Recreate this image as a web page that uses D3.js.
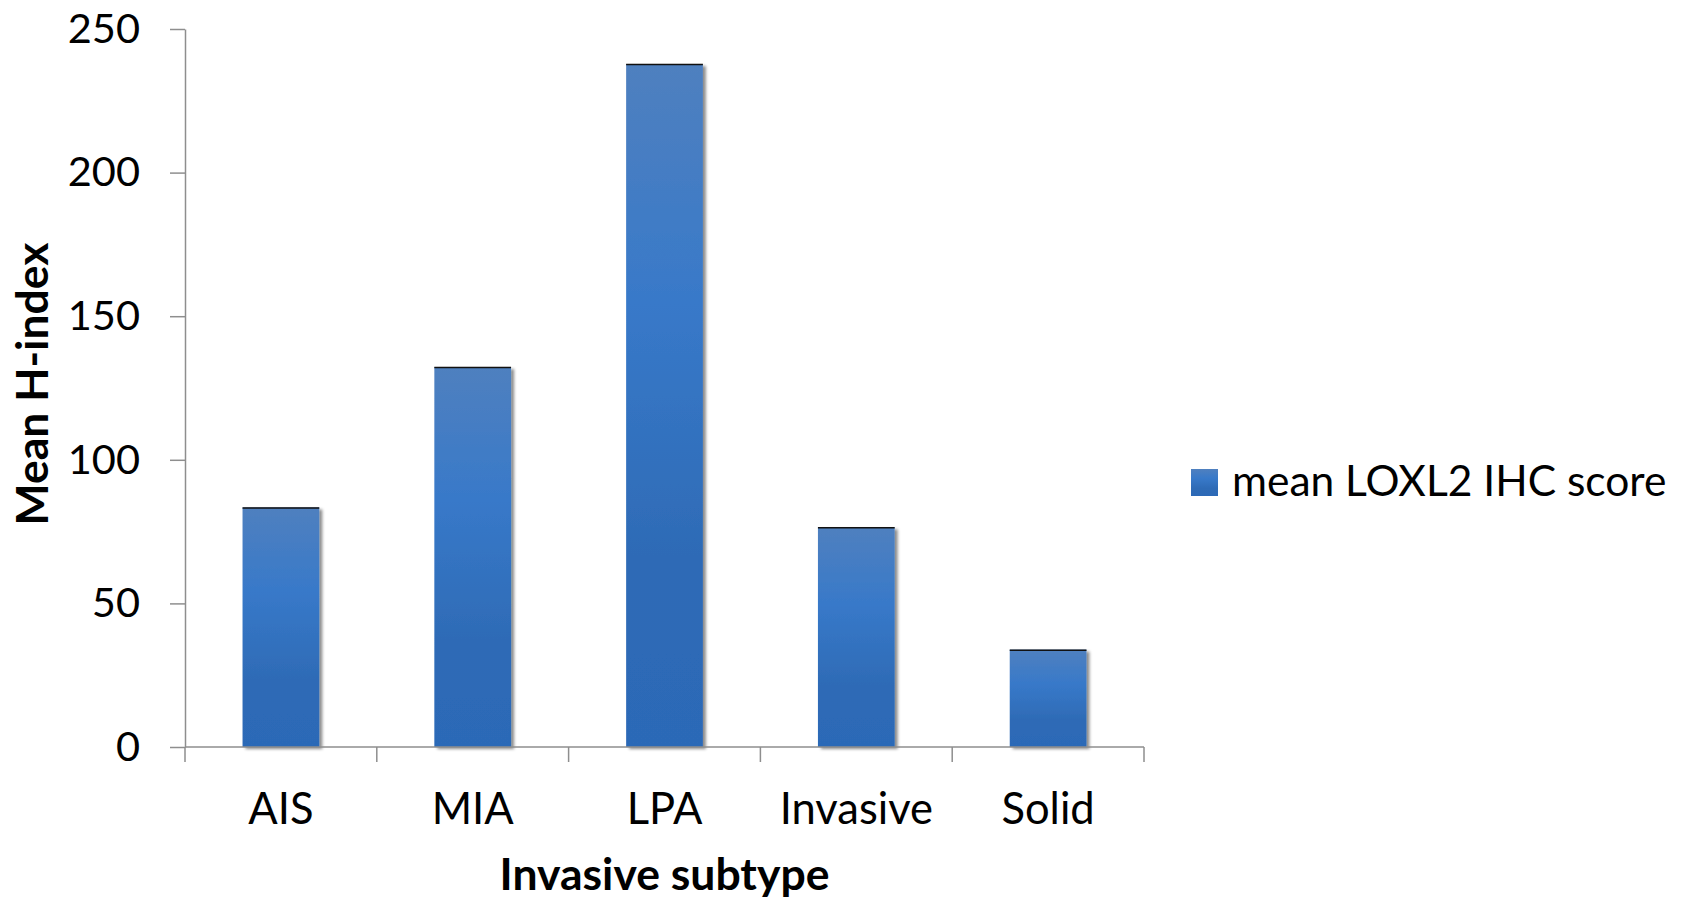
<!DOCTYPE html>
<html>
<head>
<meta charset="utf-8">
<script src="https://cdn.jsdelivr.net/npm/d3@7"></script>
<style>
  html, body { margin: 0; padding: 0; background: #fff; }
  svg { display: block; }
  text { font-family: Lato, "Open Sans", sans-serif; fill: #000; }
</style>
</head>
<body>
<svg id="chart" width="1682" height="899"></svg>
<script>
// Mean LOXL2 IHC score (H-index) per invasive subtype
const categories = ["AIS", "MIA", "LPA", "Invasive", "Solid"];
const meanScore = [83.4, 132.3, 237.8, 76.5, 33.9];
const yTicks = [0, 50, 100, 150, 200, 250];
const seriesName = "mean LOXL2 IHC score";
const xTitle = "Invasive subtype";
const yTitle = "Mean H-index";

const svg = d3.select("#chart");
const plot = { left: 185, right: 1144, top: 29, bottom: 747 };

const x = d3.scaleBand().domain(categories).range([plot.left, plot.right]);
const y = d3.scaleLinear().domain([0, 250]).range([plot.bottom, plot.top]);

const defs = svg.append("defs");
const grad = defs.append("linearGradient")
  .attr("id", "barFill").attr("x1", 0).attr("y1", 0).attr("x2", 0).attr("y2", 1);
[["0%", "#4f80bf"], ["35%", "#3879c9"], ["72%", "#2e6bb6"], ["100%", "#2c69b7"]]
  .forEach(([o, c]) => grad.append("stop").attr("offset", o).attr("stop-color", c));

const shadow = defs.append("filter").attr("id", "barShadow")
  .attr("x", "-10%").attr("y", "-5%").attr("width", "130%").attr("height", "115%");
shadow.append("feDropShadow").attr("dx", 3).attr("dy", 2).attr("stdDeviation", 1.8)
  .attr("flood-color", "#000").attr("flood-opacity", 0.45);

const axisColor = "#8e8e8e";

// bars (gap width 150%: bar takes 40% of each band)
const barW = x.bandwidth() * 0.4;
const barData = categories.map((c, i) => ({ c, v: meanScore[i] }));
const bars = svg.append("g");
bars.selectAll("rect")
  .data(barData)
  .join("rect")
  .attr("x", d => x(d.c) + (x.bandwidth() - barW) / 2)
  .attr("y", d => y(d.v))
  .attr("width", barW)
  .attr("height", d => y(0) - y(d.v))
  .attr("fill", "url(#barFill)")
  .attr("filter", "url(#barShadow)");
// thin dark cap on each bar top
bars.selectAll("line")
  .data(barData)
  .join("line")
  .attr("x1", d => x(d.c) + (x.bandwidth() - barW) / 2)
  .attr("x2", d => x(d.c) + (x.bandwidth() + barW) / 2)
  .attr("y1", d => y(d.v) + 0.5)
  .attr("y2", d => y(d.v) + 0.5)
  .attr("stroke", "#111").attr("stroke-width", 1.5);

// y axis
const yAxis = svg.append("g")
  .attr("transform", `translate(${plot.left},0)`)
  .call(d3.axisLeft(y).tickValues(yTicks).tickSize(15).tickPadding(30).tickSizeOuter(0));
yAxis.select(".domain").attr("stroke", axisColor).attr("stroke-width", 1.5);
yAxis.selectAll(".tick line").attr("stroke", axisColor).attr("stroke-width", 1.5);
yAxis.selectAll(".tick text").style("font-size", "41.5px").attr("fill", "#000");

// x axis: baseline with tick marks on category boundaries
const xAxis = svg.append("g").attr("transform", `translate(0,${plot.bottom})`);
xAxis.append("line")
  .attr("x1", plot.left).attr("x2", plot.right)
  .attr("stroke", axisColor).attr("stroke-width", 1.5);
const bounds = categories.map(c => x(c)).concat([x.range()[1]]);
xAxis.selectAll("line.tk").data(bounds).join("line").attr("class", "tk")
  .attr("x1", d => d).attr("x2", d => d).attr("y1", 0).attr("y2", 15)
  .attr("stroke", axisColor).attr("stroke-width", 1.5);
xAxis.selectAll("text").data(categories).join("text")
  .attr("x", d => x(d) + x.bandwidth() / 2)
  .attr("y", 77)
  .attr("text-anchor", "middle")
  .style("font-size", "43.5px")
  .text(d => d);

// axis titles
svg.append("text")
  .attr("x", (plot.left + plot.right) / 2).attr("y", 890)
  .attr("text-anchor", "middle")
  .style("font-size", "44.5px").style("font-weight", "bold")
  .text(xTitle);
svg.append("text")
  .attr("transform", `translate(48,${(plot.top + plot.bottom) / 2 - 4}) rotate(-90)`)
  .attr("text-anchor", "middle")
  .style("font-size", "44.5px").style("font-weight", "bold")
  .text(yTitle);

// legend
const legend = svg.append("g").attr("transform", "translate(1191,469)");
legend.append("rect").attr("width", 27).attr("height", 27).attr("fill", "url(#barFill)");
legend.append("text").attr("x", 41).attr("y", 27)
  .style("font-size", "42.5px").text(seriesName);
</script>
</body>
</html>
